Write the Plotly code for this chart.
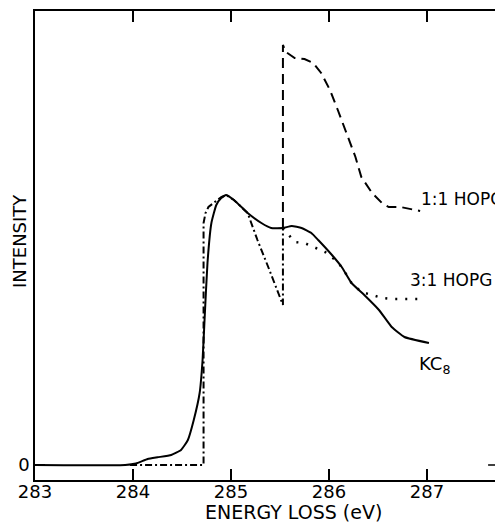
import plotly.graph_objects as go

# ---- data (energy loss in eV, intensity in arbitrary units) ----
kc8_e = [283.00, 283.92, 284.03, 284.15, 284.25, 284.39, 284.49, 284.56, 284.62, 284.68,
         284.71, 284.73, 284.76, 284.80, 284.85, 284.90, 284.95, 285.03, 285.17, 285.31,
         285.41, 285.53, 285.62, 285.72, 285.82, 285.89, 286.03, 286.13, 286.23, 286.36,
         286.51, 286.64, 286.77, 287.02]
kc8_i = [0, 0, 0.015, 0.06, 0.077, 0.10, 0.15, 0.25, 0.45, 0.72,
         1.05, 1.45, 2.02, 2.42, 2.60, 2.67, 2.70, 2.65, 2.52, 2.42,
         2.37, 2.37, 2.39, 2.37, 2.32, 2.25, 2.10, 1.98, 1.82, 1.70,
         1.55, 1.38, 1.28, 1.22]

dashdot_e = [283.97, 284.72, 284.72, 284.72, 284.74, 284.77, 284.83, 284.90, 284.95, 285.03,
             285.17, 285.27, 285.38, 285.48, 285.53, 285.53]
dashdot_i = [0, 0, 0, 2.42, 2.52, 2.58, 2.63, 2.68, 2.70, 2.65,
             2.52, 2.25, 1.98, 1.72, 1.60, 2.37]

hopg11_e = [285.53, 285.53, 285.56, 285.65, 285.75, 285.84, 285.92, 286.01, 286.09, 286.18,
            286.27, 286.33, 286.44, 286.54, 286.61, 286.73, 286.83, 286.93]
hopg11_i = [2.37, 4.20, 4.13, 4.07, 4.06, 4.02, 3.92, 3.75, 3.55, 3.32,
            3.08, 2.88, 2.72, 2.62, 2.58, 2.58, 2.56, 2.54]

hopg31_e = [285.53, 285.65, 285.75, 285.85, 285.96, 286.03, 286.13, 286.23, 286.33, 286.44,
            286.54, 286.64, 286.78, 286.93]
hopg31_i = [2.37, 2.23, 2.22, 2.18, 2.13, 2.08, 1.98, 1.82, 1.73, 1.70,
            1.67, 1.66, 1.66, 1.66]

x_ticks = [283, 284, 285, 286, 287]
x_tick_labels = ["283", "284", "285", "286", "287"]
y_ticks = [0]
y_tick_labels = ["0"]

FONT = "DejaVu Sans"

fig = go.Figure()
fig.add_trace(go.Scatter(x=dashdot_e, y=dashdot_i, mode="lines",
                         line=dict(color="black", width=2, dash="7px,3px,2px,3px")))
fig.add_trace(go.Scatter(x=hopg11_e, y=hopg11_i, mode="lines",
                         line=dict(color="black", width=2, dash="10px,6px")))
fig.add_trace(go.Scatter(x=hopg31_e, y=hopg31_i, mode="lines",
                         line=dict(color="black", width=2.5, dash="2px,8px")))
fig.add_trace(go.Scatter(x=kc8_e, y=kc8_i, mode="lines",
                         line=dict(color="black", width=2, shape="spline", smoothing=0.4)))

fig.update_layout(
    width=495, height=523,
    margin=dict(l=35, r=0, t=11, b=43),
    paper_bgcolor="white", plot_bgcolor="white",
    showlegend=False,
    font=dict(family=FONT, color="black"),
    xaxis=dict(range=[283, 287.694], tickvals=x_ticks, ticktext=x_tick_labels,
               ticks="inside", ticklen=11, tickwidth=1.5, tickcolor="black",
               showline=True, linecolor="black", linewidth=1.5, mirror="ticks",
               showgrid=False, zeroline=False, tickfont=dict(size=18, family=FONT),
               ticklabelstandoff=-5),
    yaxis=dict(range=[-0.15, 4.54], tickvals=y_ticks, ticktext=y_tick_labels,
               ticks="inside", ticklen=10, tickwidth=1.5, tickcolor="black",
               showline=True, linecolor="black", linewidth=1.5,
               showgrid=False, zeroline=False, tickfont=dict(size=18, family=FONT)),
)

fig.add_shape(type="line", xref="paper", yref="y", x0=0.985, x1=1.0, y0=0, y1=0,
              line=dict(color="black", width=1.5))

ann_font = dict(family=FONT, size=17, color="black")
fig.add_annotation(text="ENERGY LOSS (eV)", xref="paper", yref="paper",
                   x=(293.5 - 35) / 460, y=-(512 - 480) / 469, xanchor="center", yanchor="middle",
                   showarrow=False, font=dict(family=FONT, size=19, color="black"))
fig.add_annotation(text="INTENSITY", xref="paper", yref="paper", textangle=-90,
                   x=(19 - 35) / 460, y=(480 - 241) / 469, xanchor="center", yanchor="middle",
                   showarrow=False, font=dict(family=FONT, size=18, color="black"))
fig.add_annotation(text="1:1 HOPG", x=286.92, y=2.66, xanchor="left", yanchor="middle",
                   showarrow=False, font=ann_font)
fig.add_annotation(text="3:1 HOPG", x=286.81, y=1.85, xanchor="left", yanchor="middle",
                   showarrow=False, font=ann_font)
fig.add_annotation(text="KC<sub>8</sub>", x=286.90, y=1.00, xanchor="left", yanchor="middle",
                   showarrow=False, font=dict(family=FONT, size=18, color="black"))

fig.write_html("out.html", config={"displayModeBar": False},
               post_script="document.body.style.margin='0';document.body.style.overflow='hidden';")
